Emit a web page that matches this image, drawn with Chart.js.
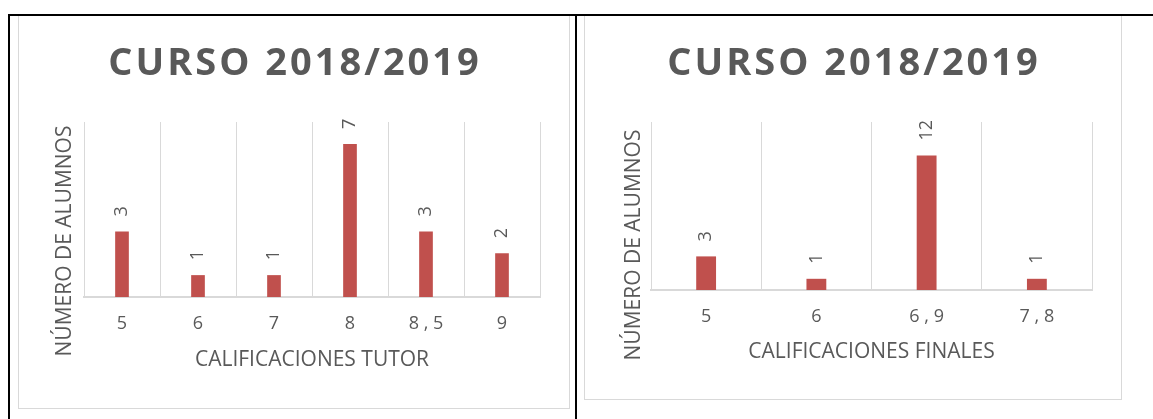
<!DOCTYPE html>
<html>
<head>
<meta charset="utf-8">
<script src="https://cdn.jsdelivr.net/npm/chart.js@4.4.0/dist/chart.umd.min.js"></script>
<style>
  body { margin: 0; background: #fff; width: 1153px; height: 419px; overflow: hidden; position: relative; }
  .line { position: absolute; background: #000; }
  .frame { position: absolute; box-sizing: border-box; border: 1px solid #d9d9d9; background: #fff; }
  .frame canvas { position: absolute; left: 0; top: 0; }
</style>
</head>
<body>
<div class="frame" style="left:18px;top:15px;width:552px;height:394px;">
  <canvas id="tutorChart" width="550" height="392"></canvas>
</div>
<div class="frame" style="left:584px;top:15px;width:538px;height:385px;">
  <canvas id="finalChart" width="536" height="383"></canvas>
</div>
<div class="line" style="left:8px;top:14px;width:1145px;height:2px;"></div>
<div class="line" style="left:8px;top:14px;width:2px;height:405px;"></div>
<div class="line" style="left:575px;top:14px;width:2px;height:405px;"></div>

<script>
// datos de los dos gráficos
const chartTitle = 'CURSO 2018/2019';
const yTitle = 'NÚMERO DE ALUMNOS';

const tutorGrades = ['5', '6', '7', '8', '8 , 5', '9'];
const tutorCounts = [3, 1, 1, 7, 3, 2];
const tutorAxisTitle = 'CALIFICACIONES TUTOR';
const tutorMax = 8;

const finalGrades = ['5', '6', '6 , 9', '7 , 8'];
const finalCounts = [3, 1, 12, 1];
const finalAxisTitle = 'CALIFICACIONES FINALES';
const finalMax = 15;

const textColor = '#595959';
const barColor = '#c0504d';
const gridColor = '#d9d9d9';
const fontFamily = '"Open Sans", "Liberation Sans", sans-serif';

// etiquetas de valor giradas encima de cada barra
const barLabels = {
    id: 'barLabels',
    afterDatasetsDraw(chart) {
        const ctx = chart.ctx;
        const meta = chart.getDatasetMeta(0);
        const values = chart.data.datasets[0].data;
        ctx.save();
        ctx.font = '18px ' + fontFamily;
        ctx.fillStyle = textColor;
        ctx.textAlign = 'left';
        ctx.textBaseline = 'middle';
        meta.data.forEach((bar, i) => {
            ctx.save();
            ctx.translate(bar.x, bar.y - 15);
            ctx.rotate(-Math.PI / 2);
            ctx.fillText(String(values[i]), 0, 0);
            ctx.restore();
        });
        ctx.restore();
    }
};

// título grande (con espaciado entre letras) y título vertical del eje Y
const chartTexts = {
    id: 'chartTexts',
    afterDraw(chart, args, opts) {
        const ctx = chart.ctx;
        ctx.save();
        ctx.fillStyle = textColor;
        ctx.textAlign = 'center';
        ctx.textBaseline = 'middle';
        ctx.font = 'bold 38px ' + fontFamily;
        ctx.letterSpacing = '3px';
        ctx.fillText(opts.title, chart.width / 2 + 1, opts.titleY);
        ctx.letterSpacing = '0px';
        ctx.font = '21px ' + fontFamily;
        ctx.translate(opts.yTitleX, opts.yTitleY);
        ctx.rotate(-Math.PI / 2);
        ctx.fillText(opts.yTitle, 0, 0);
        ctx.restore();
    }
};

function makeChart(id, labels, values, axisTitle, yMax, cfg) {
    return new Chart(document.getElementById(id), {
        type: 'bar',
        data: {
            labels: labels,
            datasets: [{
                data: values,
                backgroundColor: barColor,
                categoryPercentage: 1,
                barPercentage: 0.18
            }]
        },
        options: {
            responsive: false,
            animation: false,
            layout: { padding: { left: 0, right: 29, top: 106, bottom: 0 } },
            plugins: {
                legend: { display: false },
                tooltip: { enabled: false },
                title: { display: false },
                chartTexts: {
                    title: chartTitle, titleY: 48,
                    yTitle: yTitle, yTitleX: cfg.yTitleX, yTitleY: cfg.yTitleY
                }
            },
            scales: {
                x: {
                    grid: { display: true, color: gridColor, lineWidth: 1, drawTicks: false, offset: true },
                    border: { display: true, color: gridColor, width: 2 },
                    ticks: {
                        color: textColor,
                        padding: 16,
                        maxRotation: 0,
                        font: { family: fontFamily, size: 18 }
                    },
                    title: {
                        display: true,
                        text: axisTitle,
                        color: textColor,
                        font: { family: fontFamily, size: 21, lineHeight: 1.2 },
                        padding: { top: 0, bottom: cfg.xTitlePad }
                    },
                    afterFit(scale) { scale.height = cfg.xHeight; }
                },
                y: {
                    min: 0,
                    max: yMax,
                    grid: { display: false },
                    border: { display: false },
                    ticks: { display: false },
                    afterFit(scale) { scale.width = cfg.yWidth; }
                }
            }
        },
        plugins: [barLabels, chartTexts]
    });
}

makeChart('tutorChart', tutorGrades, tutorCounts, tutorAxisTitle, tutorMax,
    { yWidth: 65, xHeight: 111, xTitlePad: 35, yTitleX: 46, yTitleY: 225 });
makeChart('finalChart', finalGrades, finalCounts, finalAxisTitle, finalMax,
    { yWidth: 66, xHeight: 109, xTitlePad: 34, yTitleX: 49, yTitleY: 229 });
</script>
</body>
</html>
